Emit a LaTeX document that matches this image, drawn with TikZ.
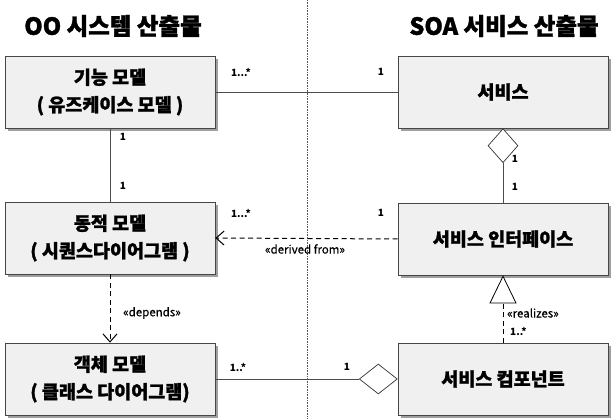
\documentclass[tikz,border=0pt]{standalone}
\usepackage{fontspec}
\setmainfont{Noto Sans CJK KR}
\newfontfamily\heavyfont[FakeBold=1.4]{Noto Sans CJK KR}
\newfontfamily\midfont[FakeBold=0.5]{Noto Sans CJK KR}
\usetikzlibrary{arrows.meta,shapes.geometric,shadows}
\begin{document}
\begin{tikzpicture}[x=1pt,y=-1pt,
  box/.style={draw=gray!55!black, line width=0.7pt, fill=gray!12,
    minimum width=210pt, minimum height=72pt, align=center,
    font=\fontsize{18.5}{27.5}\heavyfont\bfseries,
    drop shadow={shadow xshift=3pt, shadow yshift=-3pt, fill=gray!75, opacity=1}},
  hdr/.style={font=\fontsize{23.5}{26}\heavyfont\bfseries},
  lbl/.style={font=\fontsize{10}{11}\selectfont\bfseries, inner sep=1pt},
  stereo/.style={font=\fontsize{11.5}{12}\midfont, inner sep=1pt},
  conn/.style={draw=black!70, line width=0.7pt},
  dconn/.style={draw=black, line width=1pt, dash pattern=on 5pt off 3.5pt},
  dia/.style={diamond, draw=black!80, line width=0.7pt, fill=white, inner sep=0pt, minimum width=30pt, minimum height=34pt},
]
\useasboundingbox (0,0) rectangle (616,419);
\coordinate (divtop) at (307,0);
\coordinate (divbot) at (307,419);
\draw[gray!70!black, densely dotted, line width=0.6pt] (divtop) -- (divbot);

\node[hdr] (h1) at (113,26) {OO 시스템 산출물};
\node[hdr] (h2) at (504,26) {SOA 서비스 산출물};

\node[box] (f) at (110,92) {기능 모델\\( 유즈케이스 모델 )};
\node[box] (d) at (110,238) {동적 모델\\( 시퀀스다이어그램 )};
\node[box] (o) at (110,379) {객체 모델\\( 클래스 다이어그램)};
\node[box] (s) at (503,92) {서비스};
\node[box] (si) at (503,239) {서비스 인터페이스};
\node[box] (sc) at (503,379) {서비스 컴포넌트};

% functional model -- service
\draw[conn] (f.east) -- (s.west);
\node[lbl] (l1) at (241,72) {1...*};
\node[lbl] (l2) at (381,72) {1};

% functional -- dynamic
\draw[conn] (f.south) -- (d.north);
\node[lbl] (l3) at (123,137) {1};
\node[lbl] (l4) at (123,186) {1};

% service aggregation -- interface
\node[dia, anchor=north] (dm1) at (s.south) {};
\draw[conn] (dm1.south) -- (si.north);
\node[lbl] (l5) at (515,159) {1};
\node[lbl] (l6) at (515,187) {1};

% derived from
\draw[dconn, -{Straight Barb[length=8pt,width=14pt,line width=1pt]}] (si.west) -- (d.east);
\node[lbl] (l7) at (241,213) {1...*};
\node[lbl] (l8) at (381,213) {1};
\node[stereo] (st1) at (305,249) {«derived from»};

% depends
\draw[dconn, -{Straight Barb[length=8pt,width=14pt,line width=1pt]}] (d.south) -- (o.north);
\node[stereo, anchor=west] (st2) at (122,313) {«depends»};

% realizes
\draw[dconn, -{Triangle[open, length=28pt, width=27pt, fill=white, line width=0.8pt]}] (sc.north) -- (si.south);
\node[stereo, anchor=west] (st3) at (506,313) {«realizes»};
\node[lbl, anchor=west] (l9) at (509,331) {1..*};

% object -- component (aggregation)
\node[dia, anchor=east, minimum width=38pt, minimum height=30pt] (dm2) at (sc.west) {};
\draw[conn] (o.east) -- (dm2.west);
\node[lbl] (l10) at (238,367) {1..*};
\node[lbl] (l11) at (347,367) {1};
\end{tikzpicture}
\end{document}
